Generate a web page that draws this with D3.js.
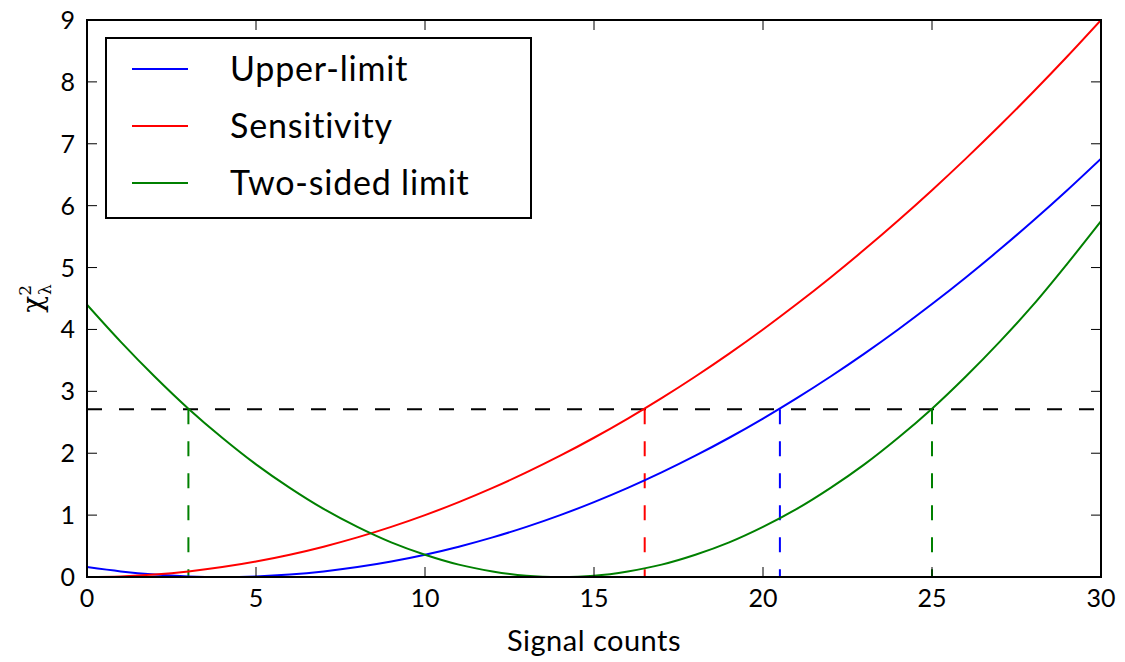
<!DOCTYPE html>
<html>
<head>
<meta charset="utf-8">
<script src="https://cdn.jsdelivr.net/npm/d3@7"></script>
<style>
  body { margin: 0; background: #fff; }
  text { font-family: Lato, "Open Sans", "DejaVu Sans", sans-serif; fill: #000; }
</style>
</head>
<body>
<svg width="1125" height="662"></svg>
<script>
// signal counts sampled along the x axis
const counts = d3.range(0, 31);

// chi-square curves
const upperLimit = [0.16, 0.09, 0.04, 0.01, 0, 0.01, 0.04, 0.09, 0.16, 0.25, 0.36,
  0.49, 0.64, 0.81, 1.00, 1.21, 1.44, 1.69, 1.96, 2.25, 2.56,
  2.89, 3.24, 3.61, 4.00, 4.41, 4.84, 5.29, 5.76, 6.25, 6.76];
const sensitivity = [0, 0.01, 0.04, 0.09, 0.16, 0.25, 0.36, 0.49, 0.64, 0.81, 1.00,
  1.21, 1.44, 1.69, 1.96, 2.25, 2.56, 2.89, 3.24, 3.61, 4.00,
  4.41, 4.84, 5.29, 5.76, 6.25, 6.76, 7.29, 7.84, 8.41, 9.00];
const twoSided = [4.40, 3.80, 3.24, 2.72, 2.25, 1.82, 1.44, 1.10, 0.81, 0.56, 0.36,
  0.20, 0.09, 0.02, 0, 0.02, 0.09, 0.20, 0.36, 0.56, 0.81,
  1.10, 1.44, 1.82, 2.25, 2.72, 3.24, 3.80, 4.40, 5.06, 5.75];

const seriesNames = ['Upper-limit', 'Sensitivity', 'Two-sided limit'];
const seriesColors = ['#0000ff', '#ff0000', '#008000'];

// threshold and where each curve crosses it
const threshold = 2.71;
const crossings = [
  { x: 3.0, color: '#008000' },
  { x: 16.5, color: '#ff0000' },
  { x: 20.5, color: '#0000ff' },
  { x: 25.0, color: '#008000' }
];

const xTicks = [0, 5, 10, 15, 20, 25, 30];
const yTicks = [0, 1, 2, 3, 4, 5, 6, 7, 8, 9];

const svg = d3.select('svg');
const width = +svg.attr('width');
const height = +svg.attr('height');

const margin = { top: 20, right: 24, bottom: 85, left: 87 };
const innerWidth = width - margin.left - margin.right;
const innerHeight = height - margin.top - margin.bottom;

const xScale = d3.scaleLinear().domain([0, 30]).range([0, innerWidth]);
const yScale = d3.scaleLinear().domain([0, 9]).range([innerHeight, 0]);

const g = svg.append('g')
  .attr('transform', `translate(${margin.left}, ${margin.top})`);

g.append('clipPath').attr('id', 'plot-clip')
  .append('rect').attr('width', innerWidth).attr('height', innerHeight);

// threshold and crossing lines
g.append('line')
  .attr('x1', xScale(0)).attr('x2', xScale(30))
  .attr('y1', yScale(threshold)).attr('y2', yScale(threshold))
  .attr('stroke', '#000').attr('stroke-width', 2)
  .attr('stroke-dasharray', '15,17');

g.selectAll('.crossing').data(crossings)
  .enter().append('line')
  .attr('class', 'crossing')
  .attr('x1', d => xScale(d.x)).attr('x2', d => xScale(d.x))
  .attr('y1', yScale(threshold)).attr('y2', yScale(0))
  .attr('stroke', d => d.color).attr('stroke-width', 2)
  .attr('stroke-dasharray', '15,17');

// curves
const line = d3.line()
  .x((d, i) => xScale(counts[i]))
  .y(d => yScale(d))
  .curve(d3.curveCatmullRom.alpha(0.5));

const series = [upperLimit, sensitivity, twoSided];
g.append('g').attr('clip-path', 'url(#plot-clip)')
  .selectAll('path').data(series)
  .enter().append('path')
  .attr('d', line)
  .attr('fill', 'none')
  .attr('stroke', (d, i) => seriesColors[i])
  .attr('stroke-width', 2);

// inward ticks on all four sides
const tickLen = 10;
const ticks = g.append('g').attr('stroke', '#000').attr('stroke-width', 1);
xTicks.forEach(t => {
  ticks.append('line').attr('x1', xScale(t)).attr('x2', xScale(t))
    .attr('y1', innerHeight).attr('y2', innerHeight - tickLen);
  ticks.append('line').attr('x1', xScale(t)).attr('x2', xScale(t))
    .attr('y1', 0).attr('y2', tickLen);
});
yTicks.forEach(t => {
  ticks.append('line').attr('x1', 0).attr('x2', tickLen)
    .attr('y1', yScale(t)).attr('y2', yScale(t));
  ticks.append('line').attr('x1', innerWidth).attr('x2', innerWidth - tickLen)
    .attr('y1', yScale(t)).attr('y2', yScale(t));
});

// frame
g.append('rect')
  .attr('width', innerWidth).attr('height', innerHeight)
  .attr('fill', 'none').attr('stroke', '#000').attr('stroke-width', 2);

// tick labels
g.selectAll('.xlab').data(xTicks)
  .enter().append('text')
  .attr('x', d => xScale(d)).attr('y', innerHeight + 30)
  .attr('text-anchor', 'middle')
  .style('font-size', '25px')
  .text(d => d);

g.selectAll('.ylab').data(yTicks)
  .enter().append('text')
  .attr('x', -12).attr('y', d => yScale(d) + 9)
  .attr('text-anchor', 'end')
  .style('font-size', '25px')
  .text(d => d);

// axis titles
g.append('text')
  .attr('x', innerWidth / 2).attr('y', innerHeight + 74)
  .attr('text-anchor', 'middle')
  .style('font-size', '29px')
  .style('letter-spacing', '0.5px')
  .text('Signal counts');

const yTitle = svg.append('text')
  .attr('transform', `translate(42, ${margin.top + innerHeight / 2}) rotate(-90)`)
  .attr('text-anchor', 'middle')
  .style('font-family', '"DejaVu Serif", serif')
  .style('font-size', '28px');
yTitle.append('tspan').text('χ');
yTitle.append('tspan').attr('dy', -11).attr('dx', 0).style('font-size', '17px').text('2');
yTitle.append('tspan').attr('dy', 20).attr('dx', -10).style('font-size', '17px').text('λ');

// legend
const legend = svg.append('g').attr('transform', 'translate(106, 38)');
legend.append('rect')
  .attr('width', 425).attr('height', 180)
  .attr('fill', '#fff').attr('stroke', '#000').attr('stroke-width', 2);

const items = legend.selectAll('.item').data(seriesNames)
  .enter().append('g')
  .attr('transform', (d, i) => `translate(0, ${31 + i * 57})`);
items.append('line')
  .attr('x1', 26).attr('x2', 82)
  .attr('stroke', (d, i) => seriesColors[i]).attr('stroke-width', 2);
items.append('text')
  .attr('x', 124).attr('y', 12)
  .style('font-size', '34px')
  .style('letter-spacing', '0.8px')
  .text(d => d);
</script>
</body>
</html>
